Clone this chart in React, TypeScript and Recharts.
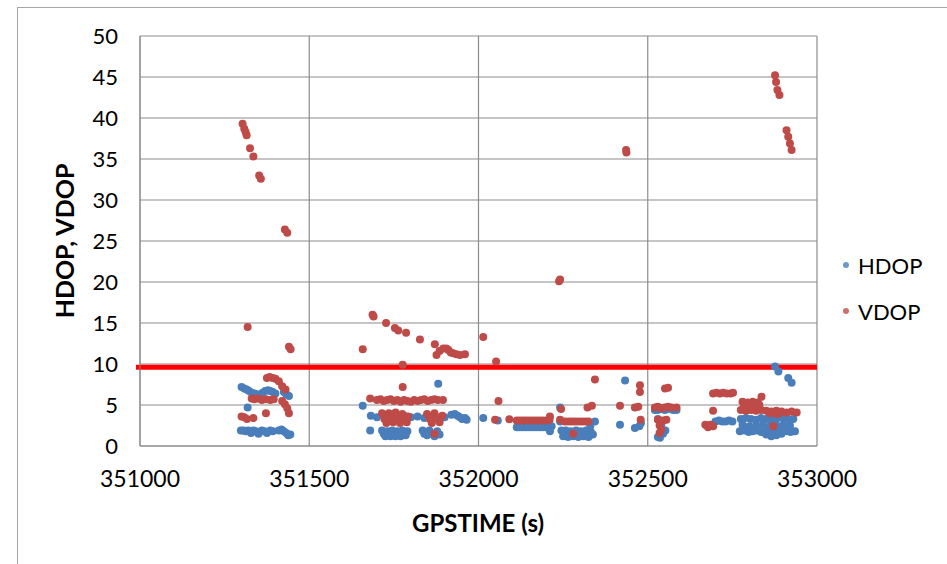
import React from 'react';
import { ScatterChart, Scatter, XAxis, YAxis, CartesianGrid, ReferenceLine, Legend } from 'recharts';

const xTicks = [351000, 351500, 352000, 352500, 353000];
const yTicks = [0, 5, 10, 15, 20, 25, 30, 35, 40, 45, 50];
const thresholdValue = 9.6;
const thresholdStart = 350988;
const thresholdEnd = 353000;

const hdopPoints: [number, number][] = [
  [351300, 7.2], [351308, 7.0], [351315, 6.9], [351322, 6.7], [351330, 6.5], [351338, 6.4], [351345, 6.3], [351352, 6.2],
  [351362, 6.5], [351370, 6.7], [351378, 6.8], [351385, 6.7], [351392, 6.6], [351400, 6.4], [351425, 6.6], [351432, 6.3],
  [351440, 6.1], [351318, 4.7],
  [351298, 1.9], [351305, 1.9], [351312, 1.8], [351320, 1.9], [351328, 1.6], [351335, 1.9], [351342, 1.8], [351350, 1.5],
  [351360, 1.9], [351368, 1.8], [351375, 1.6], [351385, 1.9], [351392, 1.8], [351410, 1.9], [351418, 2.0], [351425, 1.8],
  [351432, 1.6], [351438, 1.3], [351444, 1.4],
  [351658, 4.9], [351680, 1.9], [351682, 3.7], [351715, 1.9], [351720, 1.5], [351725, 1.2], [351730, 1.8], [351735, 1.4],
  [351740, 1.2], [351745, 1.9], [351750, 1.5], [351755, 1.2], [351760, 1.8], [351765, 1.4], [351770, 1.2], [351775, 1.9],
  [351780, 1.5], [351785, 1.3], [351790, 1.8],
  [351700, 3.5], [351720, 3.8], [351740, 3.6], [351760, 3.3], [351780, 3.7], [351800, 3.5], [351820, 3.6], [351840, 3.4],
  [351860, 3.6], [351880, 3.3], [351900, 3.5],
  [351835, 1.9], [351840, 1.5], [351848, 1.3], [351855, 1.9], [351862, 1.5], [351870, 1.2], [351878, 1.8], [351885, 1.4],
  [351881, 7.6], [351920, 3.8], [351930, 3.9], [351938, 3.7], [351945, 3.5], [351952, 3.3], [351960, 3.4], [351965, 3.2],
  [352014, 3.4], [352057, 3.1],
  [352113, 2.3], [352122, 2.3], [352131, 2.3], [352140, 2.3], [352150, 2.3], [352160, 2.3], [352170, 2.3], [352180, 2.3],
  [352190, 2.3], [352200, 2.3], [352210, 2.3], [352216, 2.4], [352211, 1.8],
  [352241, 4.7], [352241, 3.0],
  [352245, 1.9], [352250, 1.2], [352258, 1.9], [352265, 1.1], [352272, 1.8], [352280, 1.2], [352288, 1.9], [352295, 1.1],
  [352302, 1.8], [352310, 1.2], [352318, 1.9], [352325, 1.1], [352332, 1.7], [352338, 1.4], [352330, 2.4], [352344, 3.0],
  [352433, 8.0], [352418, 2.6], [352462, 2.2], [352475, 2.4], [352480, 2.8],
  [352521, 4.4], [352530, 4.4], [352540, 4.5], [352550, 4.4], [352560, 4.5], [352575, 4.4], [352585, 4.4],
  [352530, 1.1], [352536, 1.0], [352545, 1.5], [352552, 1.9], [352530, 3.3], [352540, 2.6],
  [352700, 3.0], [352710, 3.1], [352720, 3.0], [352730, 3.0], [352740, 3.1], [352750, 3.0],
  [352876, 9.7], [352886, 9.1], [352915, 8.3], [352925, 7.7],
  [352775, 3.3], [352790, 3.4], [352805, 3.3], [352820, 3.2], [352835, 3.4], [352850, 3.3], [352865, 3.2], [352880, 3.3],
  [352900, 3.4], [352915, 3.3], [352930, 3.3],
  [352780, 2.6], [352800, 2.4], [352820, 2.5], [352840, 2.6], [352860, 2.4], [352880, 2.5], [352900, 2.6], [352920, 2.5],
  [352772, 1.8], [352785, 1.9], [352798, 1.7], [352810, 1.8], [352822, 1.9], [352835, 1.7], [352848, 1.8], [352860, 1.6],
  [352872, 1.8], [352885, 1.7], [352898, 1.9], [352910, 1.8], [352922, 1.7], [352935, 1.8],
  [352850, 1.4], [352865, 1.2], [352880, 1.3], [352895, 1.5],
];

const vdopPoints: [number, number][] = [
  [351303, 39.3], [351308, 38.7], [351312, 38.3], [351315, 37.9], [351325, 36.3], [351335, 35.3], [351352, 33.0], [351357, 32.6],
  [351428, 26.4], [351435, 26.0], [351318, 14.5], [351440, 12.1], [351445, 11.8],
  [351375, 8.3], [351383, 8.4], [351392, 8.3], [351400, 8.2], [351410, 7.9], [351420, 7.3], [351430, 6.9],
  [351330, 5.8], [351338, 5.7], [351350, 5.8], [351360, 5.6], [351372, 5.7], [351385, 5.6], [351395, 5.7], [351420, 5.5],
  [351428, 5.1], [351435, 4.6], [351440, 4.0], [351300, 3.6], [351308, 3.5], [351316, 3.3], [351335, 3.4], [351372, 4.0],
  [351658, 11.8], [351687, 16.0], [351690, 15.8], [351727, 15.0], [351753, 14.4], [351763, 14.1], [351786, 13.8], [351827, 13.0],
  [351871, 12.4], [351876, 11.1], [351885, 11.6], [351896, 11.9], [351905, 11.9], [351911, 11.7], [351918, 11.4], [351925, 11.3],
  [351935, 11.2], [351945, 11.1], [351960, 11.2], [351776, 9.9], [351776, 7.2],
  [351680, 5.8], [351700, 5.6], [351710, 5.7], [351720, 5.5], [351730, 5.6], [351740, 5.7], [351750, 5.5], [351760, 5.6],
  [351770, 5.4], [351780, 5.6], [351790, 5.5], [351800, 5.4], [351810, 5.6], [351820, 5.5], [351830, 5.6], [351840, 5.7],
  [351850, 5.5], [351860, 5.6], [351870, 5.7], [351880, 5.6], [351895, 5.6],
  [351715, 4.0], [351722, 3.3], [351728, 2.8], [351735, 4.0], [351742, 3.4], [351748, 2.9], [351755, 4.1], [351762, 3.5],
  [351768, 2.8], [351775, 3.9], [351782, 3.3], [351788, 2.9], [351792, 3.6],
  [351848, 3.9], [351856, 3.3], [351862, 2.8], [351870, 4.0], [351878, 3.4], [351885, 2.9], [351893, 3.7], [351870, 1.5],
  [352014, 13.3], [352052, 10.3], [352059, 5.5], [352049, 3.2], [352091, 3.25],
  [352113, 3.1], [352122, 3.1], [352131, 3.1], [352140, 3.1], [352150, 3.1], [352160, 3.1], [352170, 3.1], [352180, 3.1],
  [352190, 3.1], [352200, 3.1], [352210, 3.2], [352211, 3.6],
  [352238, 20.1], [352241, 20.3], [352244, 4.5], [352241, 3.2],
  [352255, 3.0], [352265, 3.0], [352275, 3.0], [352285, 3.0], [352295, 3.0], [352305, 3.0], [352315, 3.0], [352325, 3.0],
  [352280, 1.5], [352322, 4.7], [352335, 4.9], [352344, 8.1],
  [352436, 36.1], [352437, 35.8],
  [352418, 4.9], [352462, 4.7], [352477, 7.4], [352477, 6.6], [352479, 3.2], [352472, 4.8],
  [352551, 7.0], [352560, 7.1], [352521, 4.7], [352530, 4.8], [352540, 4.6], [352550, 4.7], [352560, 4.8], [352570, 4.7],
  [352585, 4.7], [352530, 3.2], [352535, 2.5], [352540, 2.0], [352535, 1.6], [352545, 3.1], [352555, 3.2],
  [352693, 6.4], [352703, 6.5], [352713, 6.4], [352723, 6.5], [352733, 6.4], [352745, 6.4], [352752, 6.5],
  [352693, 4.3], [352670, 2.6], [352678, 2.3], [352685, 2.6], [352693, 2.4],
  [352780, 5.4], [352795, 5.3], [352810, 5.4], [352825, 5.3], [352785, 4.9], [352800, 5.0], [352815, 4.8], [352830, 5.0],
  [352836, 6.0],
  [352775, 4.4], [352790, 4.3], [352805, 4.4], [352820, 4.3], [352835, 4.4], [352850, 4.3], [352865, 4.2], [352880, 4.3],
  [352895, 4.2], [352910, 4.1], [352925, 4.2], [352940, 4.1],
  [352860, 4.0], [352875, 4.0], [352885, 3.9], [352871, 2.4],
  [352876, 45.2], [352879, 44.4], [352883, 43.4], [352889, 42.8], [352910, 38.5], [352915, 37.7], [352920, 36.9], [352925, 36.1],
];

const hdopData = hdopPoints.map(([t, v]) => ({ t, v }));
const vdopData = vdopPoints.map(([t, v]) => ({ t, v }));

const HDOP_COLOR = '#4A7EBB';
const VDOP_COLOR = '#BE4B48';
const FONT = 'Lato, "Open Sans", sans-serif';

const makeDot = (color: string) => (props: any) => (
  <circle cx={props.cx} cy={props.cy} r={4} fill={color} />
);

const renderYLabel = () => (
  <text
    x={64}
    y={241}
    transform="rotate(-90 64 241)"
    textAnchor="middle"
    dominantBaseline="central"
    fontFamily={FONT}
    fontWeight="bold"
    fontSize={25}
    fill="#000"
  >
    HDOP, VDOP
  </text>
);

const renderXLabel = () => (
  <text x={478} y={532} textAnchor="middle" fontFamily={FONT} fontWeight="bold" fontSize={24} fill="#000">
    GPSTIME (s)
  </text>
);

const renderLegend = (props: any) => {
  const payload = props.payload || [];
  return (
    <div style={{ fontFamily: FONT, fontSize: 22, color: '#000' }}>
      {payload.map((entry: any) => (
        <div key={entry.value} style={{ display: 'flex', alignItems: 'center', height: 46 }}>
          <span
            style={{
              display: 'inline-block',
              width: 6,
              height: 6,
              borderRadius: 3,
              background: entry.color,
              marginRight: 9,
              opacity: 0.8,
            }}
          />
          <span>{entry.value}</span>
        </div>
      ))}
    </div>
  );
};

export default function App() {
  return (
    <div style={{ position: 'absolute', left: 0, top: 0, width: 947, height: 564, background: '#fff', overflow: 'hidden' }}>
      <div
        style={{
          position: 'absolute',
          left: 17,
          top: 7,
          width: 940,
          height: 570,
          borderLeft: '1px solid #a6a6a6',
          borderTop: '1px solid #a6a6a6',
        }}
      />
      <ScatterChart width={947} height={564} margin={{ top: 36, right: 130, bottom: 0, left: 0 }}>
        <CartesianGrid stroke="#8c8c8c" strokeWidth={1.2} horizontal vertical />
        <XAxis
          type="number"
          dataKey="t"
          domain={[351000, 353000]}
          ticks={xTicks}
          tickSize={0}
          tickMargin={25}
          height={118}
          stroke="#8c8c8c"
          tick={{ fill: '#000', fontSize: 23, fontFamily: FONT }}
          allowDataOverflow
          label={renderXLabel}
        />
        <YAxis
          type="number"
          dataKey="v"
          domain={[0, 50]}
          ticks={yTicks}
          tickSize={0}
          tickMargin={22}
          width={140}
          stroke="#8c8c8c"
          tick={{ fill: '#000', fontSize: 22, fontFamily: FONT }}
          label={renderYLabel}
        />
        <Scatter name="HDOP" data={hdopData} fill={HDOP_COLOR} shape={makeDot(HDOP_COLOR)} isAnimationActive={false} />
        <Scatter name="VDOP" data={vdopData} fill={VDOP_COLOR} shape={makeDot(VDOP_COLOR)} isAnimationActive={false} />
        <ReferenceLine
          segment={[
            { x: thresholdStart, y: thresholdValue },
            { x: thresholdEnd, y: thresholdValue },
          ]}
          stroke="#FF0000"
          strokeWidth={5}
          ifOverflow="visible"
        />
        <Legend
          layout="vertical"
          align="center"
          verticalAlign="middle"
          content={renderLegend}
          wrapperStyle={{ position: 'absolute', left: 843, top: 242, width: 100, height: 92 }}
        />
      </ScatterChart>
    </div>
  );
}
